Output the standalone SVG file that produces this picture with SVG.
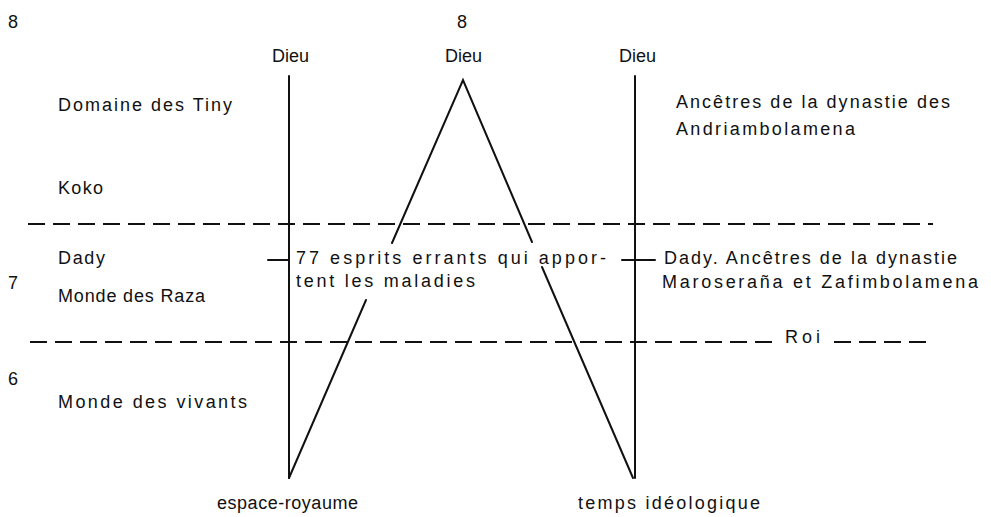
<svg xmlns="http://www.w3.org/2000/svg" width="991" height="517" viewBox="0 0 991 517">
<style>
text{font-family:"Liberation Sans","DejaVu Sans",sans-serif;font-size:18px;fill:#111;}
.ln{stroke:#111;stroke-width:2;fill:none;stroke-linecap:round;}
.dash{stroke:#111;stroke-width:2;fill:none;stroke-dasharray:17 8;}
</style>
<rect width="991" height="517" fill="#fff"/>
<g id="connectors">
<line class="ln" x1="289" y1="76" x2="289" y2="478"/>
<line class="ln" x1="635" y1="76" x2="635" y2="478"/>
<polyline class="ln" points="392,243 463,80 532,242"/>
<line class="ln" x1="366" y1="300" x2="289" y2="478"/>
<line class="ln" x1="542" y1="267" x2="633" y2="478"/>
<line class="ln" x1="268" y1="260" x2="289" y2="260"/>
<line class="ln" x1="622" y1="260" x2="655" y2="260"/>
<line class="dash" x1="28" y1="224" x2="933" y2="224"/>
<line class="dash" x1="30" y1="342" x2="774" y2="342"/>
<line class="dash" x1="834" y1="342" x2="930" y2="342"/>
</g>
<g id="n-num8a"><text x="8" y="28">8</text></g>
<g id="n-num8b"><text x="457" y="28">8</text></g>
<g id="n-dieu1"><text x="272" y="62" textLength="37" lengthAdjust="spacing">Dieu</text></g>
<g id="n-dieu2"><text x="445" y="62" textLength="37" lengthAdjust="spacing">Dieu</text></g>
<g id="n-dieu3"><text x="619" y="62" textLength="37" lengthAdjust="spacing">Dieu</text></g>
<g id="n-tiny"><text x="58" y="111" textLength="174" lengthAdjust="spacing">Domaine des Tiny</text></g>
<g id="n-koko"><text x="58" y="194" textLength="45" lengthAdjust="spacing">Koko</text></g>
<g id="n-andria"><text x="676" y="108" textLength="274" lengthAdjust="spacing">Ancêtres de la dynastie des</text><text x="676" y="135" textLength="179" lengthAdjust="spacing">Andriambolamena</text></g>
<g id="n-dady"><text x="58" y="264" textLength="47" lengthAdjust="spacing">Dady</text></g>
<g id="n-esprits"><text x="296" y="264" textLength="310" lengthAdjust="spacing">77 esprits errants qui appor-</text><text x="296" y="287" textLength="179" lengthAdjust="spacing">tent les maladies</text></g>
<g id="n-dady2"><text x="664" y="264" textLength="293" lengthAdjust="spacing">Dady. Ancêtres de la dynastie</text><text x="662" y="288" textLength="316" lengthAdjust="spacing">Maroseraña et Zafimbolamena</text></g>
<g id="n-num7"><text x="8" y="289">7</text></g>
<g id="n-raza"><text x="58" y="302" textLength="147" lengthAdjust="spacing">Monde des Raza</text></g>
<g id="n-roi"><text x="785" y="343" textLength="35" lengthAdjust="spacing">Roi</text></g>
<g id="n-num6"><text x="8" y="385">6</text></g>
<g id="n-vivants"><text x="58" y="408" textLength="189" lengthAdjust="spacing">Monde des vivants</text></g>
<g id="n-espace"><text x="217" y="509" textLength="141" lengthAdjust="spacing">espace-royaume</text></g>
<g id="n-temps"><text x="578" y="509" textLength="182" lengthAdjust="spacing">temps idéologique</text></g>
</svg>
